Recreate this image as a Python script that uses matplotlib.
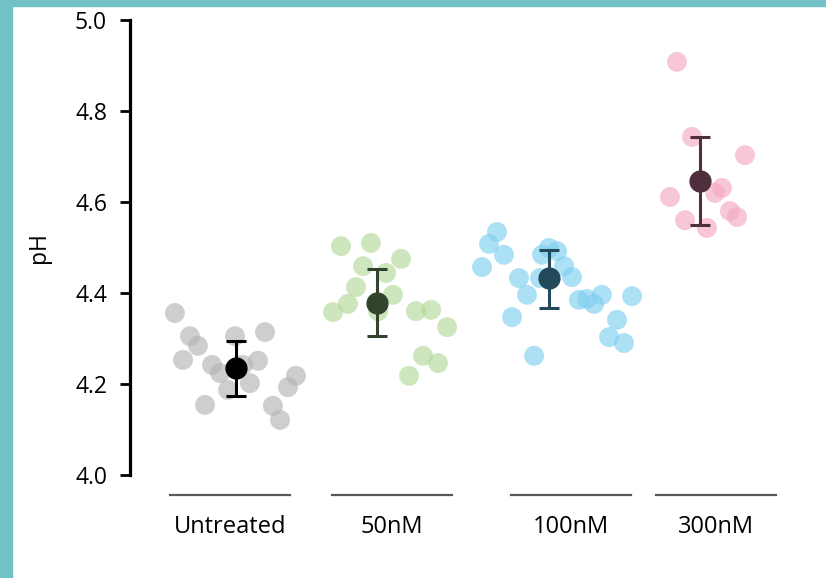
import numpy as np
import matplotlib
matplotlib.use("Agg")
import matplotlib.pyplot as plt
from matplotlib.patches import Rectangle
from matplotlib.transforms import blended_transform_factory

plt.rcParams['font.family'] = ['Open Sans', 'DejaVu Sans']

# data
groups = ["Untreated", "50nM", "100nM", "300nM"]

untreated_ph = [4.356, 4.305, 4.284, 4.253, 4.242, 4.224, 4.305, 4.314, 4.242,
                4.251, 4.202, 4.187, 4.154, 4.152, 4.121, 4.193, 4.218]
untreated_jit = [-0.340, -0.247, -0.198, -0.290, -0.111, -0.062, 0.031, 0.216, 0.080,
                 0.173, 0.123, -0.012, -0.154, 0.265, 0.309, 0.358, 0.407]

nm50_ph = [4.503, 4.510, 4.459, 4.444, 4.475, 4.413, 4.376, 4.358, 4.396,
           4.360, 4.360, 4.363, 4.325, 4.262, 4.246, 4.218]
nm50_jit = [-0.315, -0.130, -0.179, -0.037, 0.056, -0.222, -0.272, -0.364, 0.006,
            -0.086, 0.148, 0.241, 0.340, 0.191, 0.284, 0.105]

nm100_ph = [4.534, 4.508, 4.484, 4.457, 4.484, 4.499, 4.492, 4.459, 4.435, 4.433, 4.396,
            4.347, 4.262, 4.385, 4.387, 4.376, 4.396, 4.393, 4.341, 4.303, 4.290, 4.433]
nm100_jit = [-0.457, -0.506, -0.414, -0.549, -0.179, -0.136, -0.086, -0.043, 0.006, -0.321, -0.272,
             -0.364, -0.228, 0.049, 0.099, 0.142, 0.191, 0.377, 0.284, 0.235, 0.327, -0.191]

nm300_ph = [4.908, 4.743, 4.703, 4.631, 4.620, 4.611, 4.580, 4.567, 4.560, 4.543, 4.646]
nm300_jit = [-0.241, -0.148, 0.179, 0.037, -0.006, -0.284, 0.086, 0.130, -0.191, -0.056, -0.099]

means = [4.235, 4.378, 4.433, 4.646]
err_lo = [4.174, 4.305, 4.367, 4.549]
err_hi = [4.295, 4.453, 4.495, 4.743]
mean_jit = [0.037, -0.093, -0.136, -0.099]

# layout / style
positions = [0.0, 1.0, 2.105, 3.0]
point_colors = ["#b4b4b6", "#b2da9c", "#80d0f0", "#f4a9c1"]
mean_colors = ["#000000", "#33432d", "#234a5a", "#4f2f3d"]

W, H = 826, 578
fig = plt.figure(figsize=(W / 100, H / 100), dpi=100)
fig.patch.set_facecolor("white")
teal = "#72c1c7"
fig.add_artist(Rectangle((0, 0), 12 / W, 1, transform=fig.transFigure, color=teal, zorder=0))
fig.add_artist(Rectangle((0, 1 - 6 / H), 1, 6 / H, transform=fig.transFigure, color=teal, zorder=0))

ax = fig.add_axes([130 / W, (H - 475) / H, (810 - 130) / W, 455 / H])
ax.set_facecolor("none")

all_ph = [untreated_ph, nm50_ph, nm100_ph, nm300_ph]
all_jit = [untreated_jit, nm50_jit, nm100_jit, nm300_jit]
for i in range(len(groups)):
    xs = positions[i] + np.array(all_jit[i])
    ax.scatter(xs, all_ph[i], s=205, color=point_colors[i], alpha=0.65,
               edgecolors="none", zorder=2)

for i in range(len(groups)):
    ax.errorbar(positions[i] + mean_jit[i], means[i],
                yerr=[[means[i] - err_lo[i]], [err_hi[i] - means[i]]],
                fmt="o", ms=15, color=mean_colors[i], ecolor=mean_colors[i],
                elinewidth=2.2, capsize=7.5, capthick=2.2, zorder=3)

ax.set_ylim(4.0, 5.0)
ax.set_xlim((130 - 230) / 162, (810 - 230) / 162)
ax.set_yticks([4.0, 4.2, 4.4, 4.6, 4.8, 5.0])
ax.set_yticklabels(["4.0", "4.2", "4.4", "4.6", "4.8", "5.0"])
ax.set_xticks([])
for s in ["top", "right", "bottom"]:
    ax.spines[s].set_visible(False)
ax.spines["left"].set_linewidth(2.3)
ax.tick_params(axis="y", length=7.5, width=2, pad=9, labelsize=16.5, colors="black")
ax.set_ylabel("pH", fontsize=16.5, labelpad=17)

trans = blended_transform_factory(ax.transData, ax.transAxes)
for i, g in enumerate(groups):
    ax.plot([positions[i] - 0.37, positions[i] + 0.37], [-20 / 455, -20 / 455],
            color="#5a5a5a", lw=1.6, transform=trans, clip_on=False)
    ax.text(positions[i], -52 / 455, g, transform=trans, ha="center", va="center",
            fontsize=17, color="black")

fig.savefig("out.png", dpi=100)
